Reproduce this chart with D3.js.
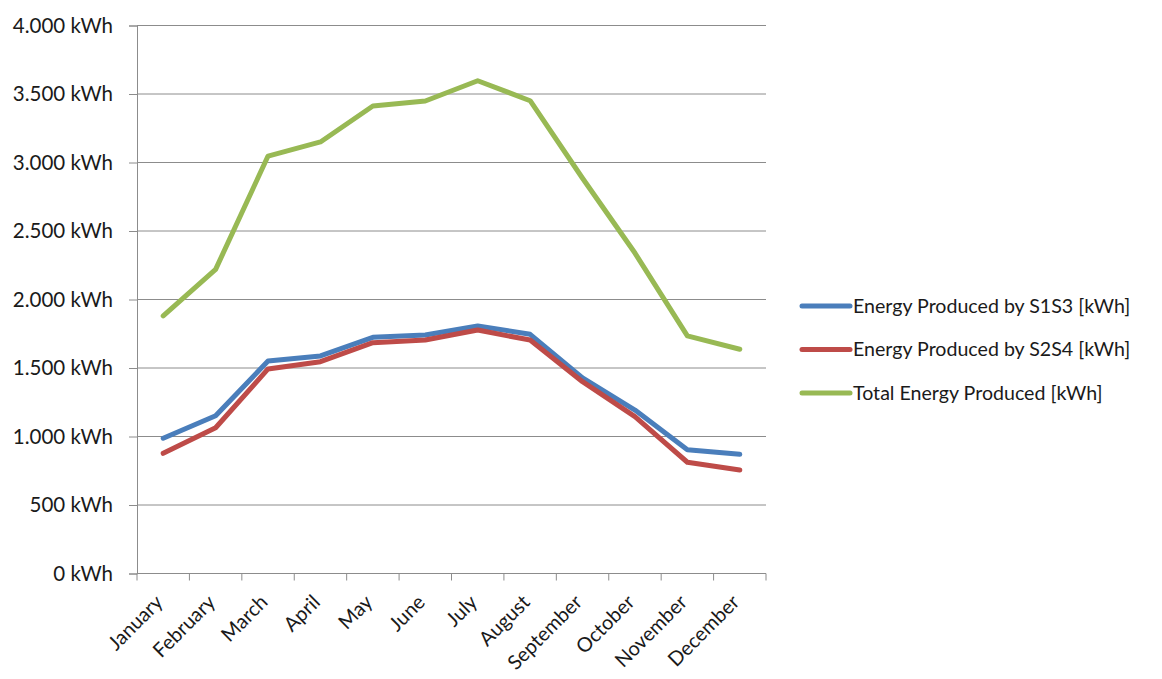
<!DOCTYPE html>
<html>
<head>
<meta charset="utf-8">
<script src="https://cdn.jsdelivr.net/npm/d3@7"></script>
<style>
  html, body { margin: 0; padding: 0; background: #fff; }
  svg { display: block; }
  text { font-family: Lato, "Open Sans", "Liberation Sans", sans-serif; fill: #1a1a1a; }
</style>
</head>
<body>
<svg id="chart" width="1162" height="679"></svg>
<script>
// Monthly energy production (kWh)
const months = ["January", "February", "March", "April", "May", "June",
                "July", "August", "September", "October", "November", "December"];
const s1s3 = [987, 1152, 1551, 1588, 1724, 1741, 1807, 1746, 1427, 1193, 904, 870];
const s2s4 = [877, 1064, 1493, 1546, 1685, 1704, 1777, 1704, 1400, 1145, 812, 755];
const total = [1880, 2220, 3047, 3150, 3412, 3449, 3597, 3451, 2885, 2339, 1734, 1637];
const yTicks = [0, 500, 1000, 1500, 2000, 2500, 3000, 3500, 4000];
const seriesNames = ["Energy Produced by S1S3 [kWh]", "Energy Produced by S2S4 [kWh]", "Total Energy Produced [kWh]"];
const seriesColors = ["#4a7ebb", "#be4b48", "#98b954"];

const series = [s1s3, s2s4, total].map((vals, i) => ({
  name: seriesNames[i], color: seriesColors[i], values: vals
}));

const svg = d3.select("#chart");
const plot = { left: 137, right: 766, top: 25.5, bottom: 573.5 };

const x = d3.scaleBand().domain(months).range([plot.left, plot.right]);
const y = d3.scaleLinear().domain([0, 4000]).range([plot.bottom, plot.top]);

const fmt = v => d3.format(",")(v).replace(/,/g, ".") + " kWh";

// Horizontal gridlines
svg.append("g")
  .selectAll("line")
  .data(yTicks.filter(t => t > 0))
  .join("line")
  .attr("x1", plot.left).attr("x2", plot.right)
  .attr("y1", d => y(d)).attr("y2", d => y(d))
  .attr("stroke", "#8c8c8c").attr("stroke-width", 1);

// Y axis
const yAxis = svg.append("g")
  .attr("transform", `translate(${plot.left},0)`)
  .call(d3.axisLeft(y).tickValues(yTicks).tickFormat(fmt).tickSize(8).tickPadding(16));
yAxis.select(".domain").attr("stroke", "#8c8c8c");
yAxis.selectAll(".tick line").attr("stroke", "#8c8c8c");
yAxis.selectAll(".tick text")
  .attr("font-size", 20.5)
  .attr("font-family", "Lato, 'Open Sans', sans-serif")
  .attr("fill", "#1a1a1a");

// X axis with ticks at band boundaries
const xAxis = svg.append("g")
  .attr("transform", `translate(0,${plot.bottom})`);
xAxis.append("line")
  .attr("x1", plot.left).attr("x2", plot.right)
  .attr("y1", 0).attr("y2", 0)
  .attr("stroke", "#8c8c8c");
const boundaries = months.map(m => x(m)).concat([plot.right]);
xAxis.selectAll("line.tk")
  .data(boundaries)
  .join("line")
  .attr("class", "tk")
  .attr("x1", d => d).attr("x2", d => d)
  .attr("y1", 0).attr("y2", 7)
  .attr("stroke", "#8c8c8c");
xAxis.selectAll("text")
  .data(months)
  .join("text")
  .attr("transform", d => `translate(${x(d) + x.bandwidth() / 2 - 4},${25}) rotate(-45)`)
  .attr("text-anchor", "end")
  .attr("dy", "0.35em")
  .attr("font-size", 20)
  .text(d => d);

// Series lines
const line = d3.line()
  .x((d, i) => x(months[i]) + x.bandwidth() / 2)
  .y(d => y(d));

svg.append("g")
  .selectAll("path")
  .data(series)
  .join("path")
  .attr("fill", "none")
  .attr("stroke", d => d.color)
  .attr("stroke-width", 5)
  .attr("stroke-linejoin", "round")
  .attr("stroke-linecap", "round")
  .attr("d", d => line(d.values));

// Legend
const legend = svg.append("g").attr("transform", "translate(802,306)");
const rows = legend.selectAll("g")
  .data(series)
  .join("g")
  .attr("transform", (d, i) => `translate(0,${i * 43.5})`);
rows.append("line")
  .attr("x1", 0).attr("x2", 48)
  .attr("y1", 0).attr("y2", 0)
  .attr("stroke", d => d.color)
  .attr("stroke-width", 5)
  .attr("stroke-linecap", "round");
rows.append("text")
  .attr("x", 51)
  .attr("dy", "0.35em")
  .attr("font-size", 19.6)
  .text(d => d.name);
</script>
</body>
</html>
